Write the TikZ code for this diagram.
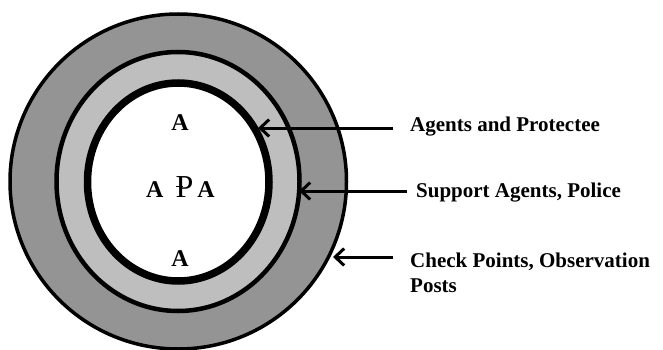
\documentclass[tikz,border=0pt]{standalone}
\usepackage{fontspec}
\newfontfamily\letterfont{Liberation Serif}
\usetikzlibrary{arrows.meta}
\definecolor{ringdark}{RGB}{148,148,148}
\definecolor{ringlight}{RGB}{190,190,190}
% P with a short stroke across its stem
\newcommand\strokeP{\rlap{\kern0.01em\rule[0.30em]{0.21em}{0.05em}}P}
\begin{document}
\begin{tikzpicture}[x=1pt,y=-1pt,
  ring/.style={draw=black},
  pointer/.style={draw=black, line width=3pt,
    -{Straight Barb[length=9pt,width=17pt]}},
  member/.style={inner sep=0pt, anchor=base,
    font=\letterfont\bfseries\fontsize{24}{24}\selectfont},
  chief/.style={inner sep=0pt, anchor=base,
    font=\letterfont\fontsize{32}{32}\selectfont},
  caption/.style={inner sep=0pt, align=left,
    font=\letterfont\bfseries\fontsize{21}{25}\selectfont}]
\useasboundingbox (0,0) rectangle (663,350);
\fill[white] (0,0) rectangle (663,350);

% the three protection rings
\path[ring, fill=ringdark, line width=3.5pt]
  (178.25,181.5) ellipse [x radius=168.25, y radius=167.5];
\path[ring, fill=ringlight, line width=4.5pt]
  (178,181.5) ellipse [x radius=121.5, y radius=129.5];
\path[ring, fill=white, line width=7.5pt]
  (178.25,182) ellipse [x radius=90.75, y radius=99];

% agents around the protectee
\node[member] (atop) at (180,130) {A};
\node[member] (aleft) at (154.7,197) {A};
\node[chief] (prot) at (184.5,197) {\strokeP};
\node[member] (aright) at (206,197) {A};
\node[member] (abot) at (180,266) {A};

% captions
\node[caption, anchor=base west] (inner) at (410,131) {Agents and Protectee};
\node[caption, anchor=base west] (middle) at (416,197) {Support Agents, Police};
\node[caption, anchor=north west] (outer) at (410,253)
  {Check Points, Observation\\Posts};

% pointer ends
\coordinate (s1) at (393,128);
\coordinate (t1) at (258,128);
\coordinate (s2) at (407,191);
\coordinate (t2) at (299,191);
\coordinate (s3) at (393,257);
\coordinate (t3) at (333,257);

\draw[pointer] (s1) -- (t1);
\draw[pointer] (s2) -- (t2);
\draw[pointer] (s3) -- (t3);
\end{tikzpicture}
\end{document}
